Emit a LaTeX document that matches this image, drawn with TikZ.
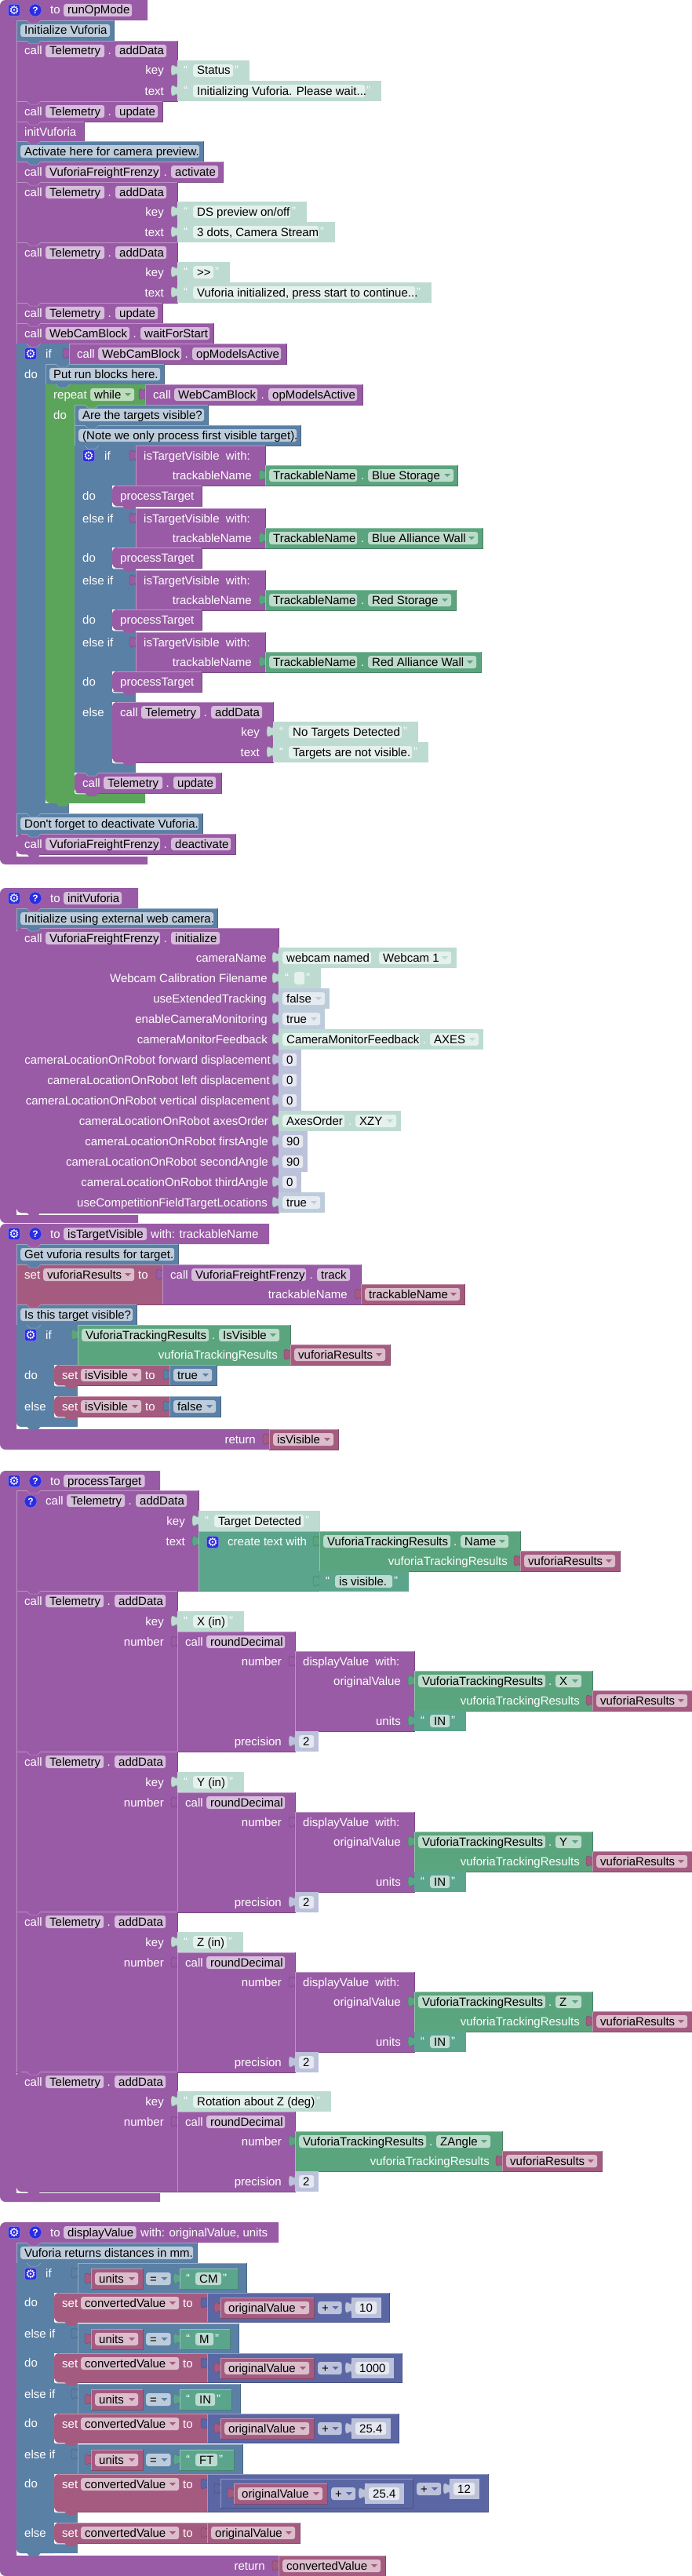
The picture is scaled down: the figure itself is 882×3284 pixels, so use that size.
\documentclass[tikz,border=0pt]{standalone}
\usepackage{fontspec}
\setmainfont{Liberation Sans}
\newfontfamily\gearfont{DejaVu Sans}
\newfontfamily\plainq{Liberation Sans}
\usepackage{tikz}
\usetikzlibrary{positioning}

\definecolor{procC}{HTML}{995BA5}
\definecolor{logicC}{HTML}{5B80A5}
\definecolor{loopC}{HTML}{5BA55B}
\definecolor{mathC}{HTML}{5B67A5}
\definecolor{textC}{HTML}{5BA58C}
\definecolor{classC}{HTML}{5BA57E}
\definecolor{varC}{HTML}{A55B80}
\definecolor{procF}{HTML}{D6BDDB}
\definecolor{logicF}{HTML}{BDCCDB}
\definecolor{loopF}{HTML}{BDDBBD}
\definecolor{mathF}{HTML}{BDC2DB}
\definecolor{textF}{HTML}{BDDBD1}
\definecolor{classF}{HTML}{BDDBCB}
\definecolor{varF}{HTML}{DBBDCC}
\definecolor{textSF}{HTML}{E5F1ED}
\definecolor{numSF}{HTML}{E5E7F1}
\definecolor{boolSF}{HTML}{E5EBF1}
\definecolor{iconC}{HTML}{2C2CE0}

\newcounter{nd}
\newcommand{\blockfont}{\fontsize{15}{16}\selectfont}

% plain shapes
\newcommand{\blk}[5]{\fill[#1] (#2,#3) rectangle (#4,#5);
  \draw[#1!65!white,line width=.6pt] (#2,#5) -- (#2,#3) -- (#4,#3);
  \draw[#1!80!black,line width=.6pt] (#4,#3) -- (#4,#5) -- (#2,#5);}
\newcommand{\sblk}[5]{\fill[#1] (#2,#3) rectangle (#4,#5);}
\newcommand{\rblk}[5]{\fill[#1] (#2+6,#3) -- (#4,#3) -- (#4,#5) -- (#2+6,#5) [rounded corners=6] -- (#2,#5) -- (#2,#3) -- (#2+6,#3);
  \draw[#1!65!white,line width=.6pt] (#2+6,#3) -- (#4,#3);
  \draw[#1!80!black,line width=.6pt] (#4,#3) -- (#4,#5) -- (#2+6,#5);
  \draw[white,line width=1pt] (#2+.5,#5-4) .. controls (#2+.5,#5+.8) .. (#2+5,#5+.8) -- (#2+15,#5+.8);
  \fill[#1] (#2+13,#5-.5) -- (#2+17,#5+4) -- (#2+27,#5+4) -- (#2+31,#5-.5);}
\newcommand{\procblk}[5]{\fill[procC] (8,#1) -- (#3,#1) -- (#3,#2) -- (21,#2) -- (21,#4) -- (#3,#4) -- (#3,#5) -- (8,#5) [rounded corners=7] -- (0,#5) -- (0,#1) -- (8,#1);}
\newcommand{\nch}[3]{\path[fill=#3,draw=#3!65!white,line width=.5pt] (#1+13,#2) -- (#1+17,#2+4) -- (#1+27,#2+4) -- (#1+31,#2);}
\newcommand{\vtab}[3]{\path[fill=#1,draw=#1!75!black,line width=.4pt] (#2,#3+5) .. controls (#2,#3+15) and (#2-8,#3-3) .. (#2-8,#3+12.5) .. controls (#2-8,#3+28) and (#2,#3+10) .. (#2,#3+20);}
\newcommand{\drp}[3]{\fill[#1] (#2-12,#3+11) -- (#2-4,#3+11) -- (#2-8,#3+15) -- cycle;}

% texts
\newcommand{\lab}[3]{\stepcounter{nd}\node[lab] (n\arabic{nd}) at (#1,#2+13) {#3};}
\newcommand{\rlab}[3]{\stepcounter{nd}\node[rlab] (n\arabic{nd}) at (#1-17,#2+13) {#3};}
\newcommand{\pill}[5]{\stepcounter{nd}\pgfmathsetlengthmacro\pw{(#3)-(#2)-10}\node[pill,fill=#1] (n\arabic{nd}) at (#2,#4+13) {\makebox[\pw][l]{#5}};}
\newcommand{\dpill}[6]{\pill{#2}{#3}{#4}{#5}{#6}\drp{#1}{#4}{#5}}
\newcommand{\gearic}[2]{\stepcounter{nd}\node[gearbox] (n\arabic{nd}) at (#1,#2) {\gearfont ⚙};}
\newcommand{\qic}[2]{\stepcounter{nd}\node[helpdot] (n\arabic{nd}) at (#1,#2) {\textbf{?}};}

% bigger pieces
\newcommand{\calltxt}[6]{\lab{#1+10}{#2}{call}\pill{procF}{#1+37}{#1+37+#4}{#2}{#3}\lab{#1+37+#4+4.5}{#2}{.}\pill{procF}{#1+37+#4+14}{#1+37+#4+14+#6}{#2}{#5}}
\newcommand{\prochead}[3]{\gearic{18}{#1+13}\qic{45}{#1+13}\lab{64}{#1}{to}\pill{procF}{81}{#2}{#1}{#3}}
\newcommand{\cmt}[4]{\blk{logicC}{#1}{#3}{#2}{#3+26}\pill{logicF}{#1+5}{#2-5}{#3}{#4}}
\newcommand{\strv}[6]{\vtab{#1}{#3}{#5}\sblk{#1}{#3}{#5}{#4}{#5+26}\lab{#3+8}{#5-1}{“}\pill{#2}{#3+20}{#4-21}{#5}{#6}\lab{#4-19}{#5-1}{”}}
\newcommand{\sstr}[4]{\strv{textF}{textSF}{#1}{#2}{#3}{#4}}
\newcommand{\dstr}[4]{\strv{textC}{textF}{#1}{#2}{#3}{#4}}
\newcommand{\nval}[4]{\vtab{mathF}{#1}{#3}\sblk{mathF}{#1}{#3}{#2}{#3+26}\pill{numSF}{#1+5}{#2-6}{#3}{#4}}
\newcommand{\bval}[4]{\vtab{logicF}{#1}{#3}\sblk{logicF}{#1}{#3}{#2}{#3+26}\dpill{logicF}{boolSF}{#1+5}{#2-6}{#3}{#4}}
\newcommand{\vvar}[4]{\vtab{varC}{#1}{#3}\blk{varC}{#1}{#3}{#2}{#3+26}\dpill{varC}{varF}{#1+5}{#2-6}{#3}{#4}}
\newcommand{\vres}[2]{\vvar{#1}{#1+127}{#2}{vuforiaResults}}
\newcommand{\vtr}[5]{\vtab{classC}{#1}{#2}\blk{classC}{#1}{#2}{#4}{#2+51}\pill{classF}{#1+5}{#1+167}{#2}{VuforiaTrackingResults}\lab{#1+171}{#2}{.}\dpill{classC}{classF}{#1+180}{#3}{#2}{#5}\rlab{#4+1}{#2+25}{vuforiaTrackingResults}\vres{#4}{#2+25}}
\newcommand{\tvis}[4]{\vtab{procC}{173}{#1}\blk{procC}{173}{#1}{338}{#1+51}\lab{183}{#1}{isTargetVisible\ \ with:}\rlab{338}{#1+25}{trackableName}\vtab{classC}{338}{#1+25}\blk{classC}{338}{#1+25}{#3}{#1+51}\pill{classF}{343}{455}{#1+25}{TrackableName}\lab{460}{#1+25}{.}\dpill{classC}{classF}{469}{#2}{#1+25}{#4}}
\newcommand{\ptg}[1]{\rblk{procC}{143}{#1}{257}{#1+26}\lab{153}{#1}{processTarget}}
\newcommand{\setx}[4]{\lab{#1+10}{#2}{set}\dpill{varC}{varF}{#1+34}{#3}{#2}{#4}\lab{#3+5}{#2}{to}}
\newcommand{\cond}[3]{\vtab{logicC}{99}{#1}\blk{logicC}{99}{#1}{#2}{#1+38}\vvar{116}{182}{#1+7}{units}\dpill{logicC}{logicF}{186}{217.5}{#1+7}{=}\vtab{textC}{229}{#1+7}\blk{textC}{229}{#1+7}{#2-11}{#1+33}\lab{237}{#1+6}{“}\pill{textF}{249}{#2-32}{#1+7}{#3}\lab{#2-30}{#1+6}{”}}
\newcommand{\conv}[4]{\rblk{varC}{69}{#1}{264}{#1+37}\setx{69}{#1}{228}{convertedValue}\vtab{mathC}{264}{#1}\blk{mathC}{264}{#1}{#2}{#1+37}\vvar{281}{400}{#1+6}{originalValue}\dpill{mathC}{mathF}{405}{435.5}{#1+6}{+}\nval{448}{#3}{#1+6}{#4}}
\newcommand{\distrow}[4]{\blk{procC}{21}{#1}{226}{#1+205}\calltxt{21}{#1}{Telemetry}{74}{addData}{65}\rlab{226}{#1+26}{key}\sstr{226}{#3}{#1+26}{#2}\rlab{226}{#1+52}{number}\vtab{procC}{226}{#1+52}\blk{procC}{226}{#1+52}{376}{#1+205}\lab{236}{#1+52}{call}\pill{procF}{263}{363}{#1+52}{roundDecimal}\rlab{376}{#1+77}{number}\vtab{procC}{376}{#1+77}\blk{procC}{376}{#1+77}{528}{#1+179}\lab{386}{#1+77}{displayValue\ \ with:}\rlab{528}{#1+102}{originalValue}\vtr{528}{#1+102}{741}{755}{#4}\rlab{528}{#1+153}{units}\dstr{528}{594}{#1+153}{IN}\rlab{376}{#1+179}{precision}\nval{376}{406}{#1+179}{2}\nch{21}{#1}{procC}}

\begin{document}
\begin{tikzpicture}[x=1pt,y=-1pt]
        % Define styles for texts
        \tikzstyle{lab} = [anchor=west, inner sep=0pt, text=white, font=\blockfont, text height=12.5pt, text depth=2.5pt]
        \tikzstyle{rlab} = [lab, anchor=east]
        \tikzstyle{pill} = [anchor=west, inner xsep=5pt, inner ysep=.5pt, rounded corners=3pt, text=black, font=\blockfont, text height=12.5pt, text depth=2.5pt]
        \tikzstyle{gearbox} = [fill=iconC, draw=iconC!60!white, line width=.5pt, rounded corners=3pt, minimum size=15pt, inner sep=0pt, text=white, font=\fontsize{15}{15}\selectfont]
        \tikzstyle{helpdot} = [circle, fill=iconC, draw=iconC!60!white, line width=.5pt, minimum size=16pt, inner sep=0pt, text=white, font=\fontsize{12}{12}\selectfont]
        \fill[white] (0,0) rectangle (882,3284);
        \useasboundingbox (0,0) rectangle (882,3284);

        % runOpMode
        \procblk{0}{26}{188}{1092}{1102}
        \prochead{0}{168}{runOpMode}
        \cmt{21}{145}{26}{Initialize Vuforia}\nch{21}{26}{procC}
        \blk{procC}{21}{52}{226}{129}\calltxt{21}{52}{Telemetry}{75}{addData}{65}\nch{21}{52}{logicC}
        \rlab{226}{77}{key}\sstr{226}{318}{77}{Status}
        \rlab{226}{103}{text}\sstr{226}{486}{103}{Initializing Vuforia. Please wait...}
        \blk{procC}{21}{129}{207}{155}\calltxt{21}{129}{Telemetry}{75}{update}{54}\nch{21}{129}{procC}
        \blk{procC}{21}{155}{107}{180}\lab{31}{155}{initVuforia}\nch{21}{155}{procC}
        \cmt{21}{259}{180}{Activate here for camera preview.}\nch{21}{180}{procC}
        \blk{procC}{21}{206}{284}{232}\calltxt{21}{206}{VuforiaFreightFrenzy}{146}{activate}{60}\nch{21}{206}{logicC}
        \blk{procC}{21}{232}{226}{309}\calltxt{21}{232}{Telemetry}{75}{addData}{65}\nch{21}{232}{procC}
        \rlab{226}{257}{key}\sstr{226}{391}{257}{DS preview on/off}
        \rlab{226}{283}{text}\sstr{226}{427}{283}{3 dots, Camera Stream}
        \blk{procC}{21}{309}{226}{386}\calltxt{21}{309}{Telemetry}{75}{addData}{65}\nch{21}{309}{procC}
        \rlab{226}{334}{key}\sstr{226}{293}{334}{>{}>}
        \rlab{226}{360}{text}\sstr{226}{550}{360}{Vuforia initialized, press start to continue...}
        \blk{procC}{21}{386}{207}{412}\calltxt{21}{386}{Telemetry}{75}{update}{54}\nch{21}{386}{procC}
        \blk{procC}{21}{412}{272}{438}\calltxt{21}{412}{WebCamBlock}{107}{waitForStart}{88}\nch{21}{412}{procC}

        % outer if
        \fill[logicC] (21,438) rectangle (58,1037);
        \fill[logicC] (58,438) rectangle (88,464);
        \fill[logicC] (58,1024) rectangle (88,1037);
        \nch{21}{438}{procC}
        \gearic{39}{451}\lab{58}{438}{if}\lab{31}{464}{do}
        \vtab{procC}{88}{438}\blk{procC}{88}{438}{365}{464}\calltxt{88}{438}{WebCamBlock}{106}{opModelsActive}{113}
        \cmt{58}{209}{464}{Put run blocks here.}\nch{58}{464}{logicC}

        % repeat
        \fill[loopC] (58,490) rectangle (185,516);
        \fill[loopC] (64,1024) -- (185,1024) -- (185,1010) -- (95,1010) -- (95,516) -- (58,516) -- (58,1018) [rounded corners=6] -- (58,1024) -- (64,1024);
        \fill[loopC] (71,1023.5) -- (75,1028) -- (85,1028) -- (89,1023.5);
        \nch{58}{490}{logicC}
        \lab{68}{490}{repeat}\dpill{loopC}{loopF}{115}{171}{490}{while}\lab{68}{516}{do}
        \vtab{procC}{185}{490}\blk{procC}{185}{490}{462}{516}\calltxt{185}{490}{WebCamBlock}{106}{opModelsActive}{113}
        \cmt{95}{265}{516}{Are the targets visible?}\nch{95}{516}{loopC}
        \cmt{95}{383}{542}{(Note we only process first visible target).}\nch{95}{542}{logicC}

        % inner if
        \fill[logicC] (95,568) rectangle (143,985);
        \fill[logicC] (143,568) rectangle (173,619);
        \fill[logicC] (143,645) rectangle (173,698);
        \fill[logicC] (143,724) rectangle (173,777);
        \fill[logicC] (143,803) rectangle (173,856);
        \fill[logicC] (143,881) rectangle (173,895);
        \fill[logicC] (143,972) rectangle (173,985);
        \nch{95}{568}{logicC}
        \gearic{113}{581}\lab{133}{568}{if}
        \tvis{568}{578}{583}{Blue Storage}\lab{105}{619}{do}\ptg{619}
        \lab{105}{648}{else if}\tvis{648}{609}{615}{Blue Alliance Wall}\lab{105}{698}{do}\ptg{698}
        \lab{105}{727}{else if}\tvis{727}{575}{581}{Red Storage}\lab{105}{777}{do}\ptg{777}
        \lab{105}{806}{else if}\tvis{806}{607}{613}{Red Alliance Wall}\lab{105}{856}{do}\ptg{856}
        \lab{105}{895}{else}
        \rblk{procC}{143}{895}{348}{972}\calltxt{143}{895}{Telemetry}{75}{addData}{65}
        \rlab{348}{920}{key}\sstr{348}{533}{920}{No Targets Detected}
        \rlab{348}{946}{text}\sstr{348}{546}{946}{Targets are not visible.}
        \rblk{procC}{95}{985}{282}{1011}\calltxt{95}{985}{Telemetry}{75}{update}{54}\nch{95}{985}{logicC}

        \cmt{21}{258}{1037}{Don{\plainq '}t forget to deactivate Vuforia.}\nch{21}{1037}{logicC}
        \rblk{procC}{21}{1063}{300}{1089}\calltxt{21}{1063}{VuforiaFreightFrenzy}{146}{deactivate}{76}\nch{21}{1063}{logicC}

        % initVuforia
        \procblk{1132}{1158}{176}{1549}{1559}
        \prochead{1132}{155}{initVuforia}
        \cmt{21}{277}{1158}{Initialize using external web camera.}\nch{21}{1158}{procC}
        \rblk{procC}{21}{1183}{355}{1546}\calltxt{21}{1183}{VuforiaFreightFrenzy}{146}{initialize}{62}\nch{21}{1183}{logicC}
        \rlab{357}{1208}{cameraName}
        \vtab{textF}{355}{1208}\sblk{textF}{355}{1208}{582}{1234}\pill{textSF}{360}{473}{1208}{webcam named}\dpill{textF}{textSF}{483}{575}{1208}{Webcam 1}
        \rlab{358}{1234}{Webcam Calibration Filename}\sstr{355}{409}{1234}{}
        \rlab{357}{1260}{useExtendedTracking}\bval{355}{420}{1260}{false}
        \rlab{358}{1286}{enableCameraMonitoring}\bval{355}{414}{1286}{true}
        \rlab{358}{1312}{cameraMonitorFeedback}
        \vtab{textF}{355}{1312}\sblk{textF}{355}{1312}{616}{1338}\pill{textSF}{360}{535}{1312}{CameraMonitorFeedback}\lab{539}{1312}{.}\dpill{textF}{textSF}{548}{610}{1312}{AXES}
        \rlab{362}{1338}{cameraLocationOnRobot forward displacement}\nval{355}{384}{1338}{0}
        \rlab{361}{1364}{cameraLocationOnRobot left displacement}\nval{355}{384}{1364}{0}
        \rlab{361}{1390}{cameraLocationOnRobot vertical displacement}\nval{355}{384}{1390}{0}
        \rlab{359}{1416}{cameraLocationOnRobot axesOrder}
        \vtab{textF}{355}{1416}\sblk{textF}{355}{1416}{511}{1442}\pill{textSF}{360}{439}{1416}{AxesOrder}\lab{444}{1416}{.}\dpill{textF}{textSF}{453}{505}{1416}{XZY}
        \rlab{359}{1442}{cameraLocationOnRobot firstAngle}\nval{355}{392}{1442}{90}
        \rlab{359}{1468}{cameraLocationOnRobot secondAngle}\nval{355}{392}{1468}{90}
        \rlab{359}{1494}{cameraLocationOnRobot thirdAngle}\nval{355}{384}{1494}{0}
        \rlab{358}{1520}{useCompetitionFieldTargetLocations}\bval{355}{414}{1520}{true}

        % isTargetVisible
        \procblk{1560}{1586}{343}{1822}{1848}
        \prochead{1560}{187}{isTargetVisible}\lab{192}{1560}{with: trackableName}
        \cmt{21}{227}{1586}{Get vuforia results for target.}\nch{21}{1586}{procC}
        \blk{varC}{21}{1612}{207}{1663}\setx{21}{1612}{171}{vuforiaResults}\nch{21}{1612}{logicC}
        \vtab{procC}{207}{1612}\blk{procC}{207}{1612}{460}{1663}\calltxt{207}{1612}{VuforiaFreightFrenzy}{146}{track}{42}
        \rlab{460}{1637}{trackableName}\vvar{460}{592}{1637}{trackableName}
        \cmt{21}{174}{1663}{Is this target visible?}\nch{21}{1663}{varC}
        \fill[logicC] (27,1819) [rounded corners=6] -- (21,1819) [sharp corners] -- (21,1689) -- (69,1689) -- (69,1819) -- (27,1819);
        \fill[logicC] (69,1689) rectangle (99,1740);
        \fill[logicC] (69,1766) rectangle (99,1780);
        \fill[logicC] (69,1806) rectangle (99,1819);
        \fill[logicC] (34,1818.5) -- (38,1823) -- (48,1823) -- (52,1818.5);
        \nch{21}{1689}{logicC}
        \gearic{39}{1702}\lab{58}{1689}{if}\lab{31}{1740}{do}\lab{31}{1780}{else}
        \vtr{99}{1689}{356}{370}{IsVisible}
        \rblk{varC}{69}{1740}{216}{1766}\setx{69}{1740}{180}{isVisible}
        \vtab{logicC}{216}{1740}\blk{logicC}{216}{1740}{276}{1766}\dpill{logicC}{logicF}{221}{270}{1740}{true}
        \rblk{varC}{69}{1780}{216}{1806}\setx{69}{1780}{180}{isVisible}
        \vtab{logicC}{216}{1780}\blk{logicC}{216}{1780}{281}{1806}\dpill{logicC}{logicF}{221}{275}{1780}{false}
        \rlab{343}{1822}{return}\vvar{343}{431}{1822}{isVisible}

        % processTarget
        \procblk{1875}{1900}{204}{2796}{2807}
        \prochead{1875}{184.5}{processTarget}
        \blk{procC}{21}{1900}{253}{2028}\qic{39}{1914}\calltxt{48}{1900}{Telemetry}{74}{addData}{65}\nch{21}{1900}{procC}
        \rlab{253}{1926}{key}\sstr{253}{408}{1926}{Target Detected}
        \rlab{253}{1952}{text}
        \vtab{textC}{253}{1952}\blk{textC}{253}{1952}{407}{2028}\gearic{271}{1966}\lab{290}{1952}{create text with}
        \vtr{407}{1952}{648}{663}{Name}
        \dstr{407}{521}{2003}{is visible.}
        \distrow{2028}{X (in)}{311}{X}
        \distrow{2233}{Y (in)}{311}{Y}
        \distrow{2437}{Z (in)}{310}{Z}
        \rblk{procC}{21}{2641}{226}{2794}\calltxt{21}{2641}{Telemetry}{74}{addData}{65}\nch{21}{2641}{procC}
        \rlab{226}{2666}{key}\sstr{226}{422}{2666}{Rotation about Z (deg)}
        \rlab{226}{2692}{number}\vtab{procC}{226}{2692}\blk{procC}{226}{2692}{376}{2794}\lab{236}{2692}{call}\pill{procF}{263}{363}{2692}{roundDecimal}
        \rlab{376}{2717}{number}\vtr{376}{2717}{625}{640}{ZAngle}
        \rlab{376}{2768}{precision}\nval{376}{406}{2768}{2}

        % displayValue
        \procblk{2833}{2859}{355}{3258}{3284}
        \prochead{2833}{173.5}{displayValue}\lab{179}{2833}{with: originalValue, units}
        \cmt{21}{251}{2859}{Vuforia returns distances in mm.}\nch{21}{2859}{procC}
        \fill[logicC] (27,3255) [rounded corners=6] -- (21,3255) [sharp corners] -- (21,2885) -- (69,2885) -- (69,3255) -- (27,3255);
        \fill[logicC] (69,2885) rectangle (99,2923);
        \fill[logicC] (69,2960) rectangle (99,3000);
        \fill[logicC] (69,3037) rectangle (99,3077);
        \fill[logicC] (69,3114) rectangle (99,3154);
        \fill[logicC] (69,3202) rectangle (99,3216);
        \fill[logicC] (69,3242) rectangle (99,3255);
        \fill[logicC] (34,3254.5) -- (38,3259) -- (48,3259) -- (52,3254.5);
        \nch{21}{2885}{logicC}
        \gearic{39}{2899}\lab{58}{2885}{if}
        \cond{2885}{314}{CM}\lab{31}{2922}{do}\conv{2923}{496}{486}{10}
        \lab{31}{2962}{else if}\cond{2962}{304}{M}\lab{31}{2999}{do}\conv{3000}{512}{502}{1000}
        \lab{31}{3039}{else if}\cond{3039}{306}{IN}\lab{31}{3076}{do}\conv{3077}{508}{498}{25.4}
        \lab{31}{3116}{else if}\cond{3116}{309}{FT}\lab{31}{3153}{do}
        \rblk{varC}{69}{3154}{264}{3202}\setx{69}{3154}{228}{convertedValue}
        \vtab{mathC}{264}{3154}\blk{mathC}{264}{3154}{622}{3202}
        \vtab{mathC}{281}{3160}\blk{mathC}{281}{3160}{526}{3197}
        \vvar{298}{417}{3166}{originalValue}\dpill{mathC}{mathF}{422}{453}{3166}{+}\nval{465}{515}{3166}{25.4}
        \dpill{mathC}{mathF}{531}{562}{3160}{+}\nval{573}{611}{3160}{12}
        \lab{31}{3216}{else}
        \rblk{varC}{69}{3216}{264}{3242}\setx{69}{3216}{228}{convertedValue}\vvar{264}{382}{3216}{originalValue}
        \rlab{355}{3258}{return}\vvar{355}{491}{3258}{convertedValue}
\end{tikzpicture}
\end{document}
